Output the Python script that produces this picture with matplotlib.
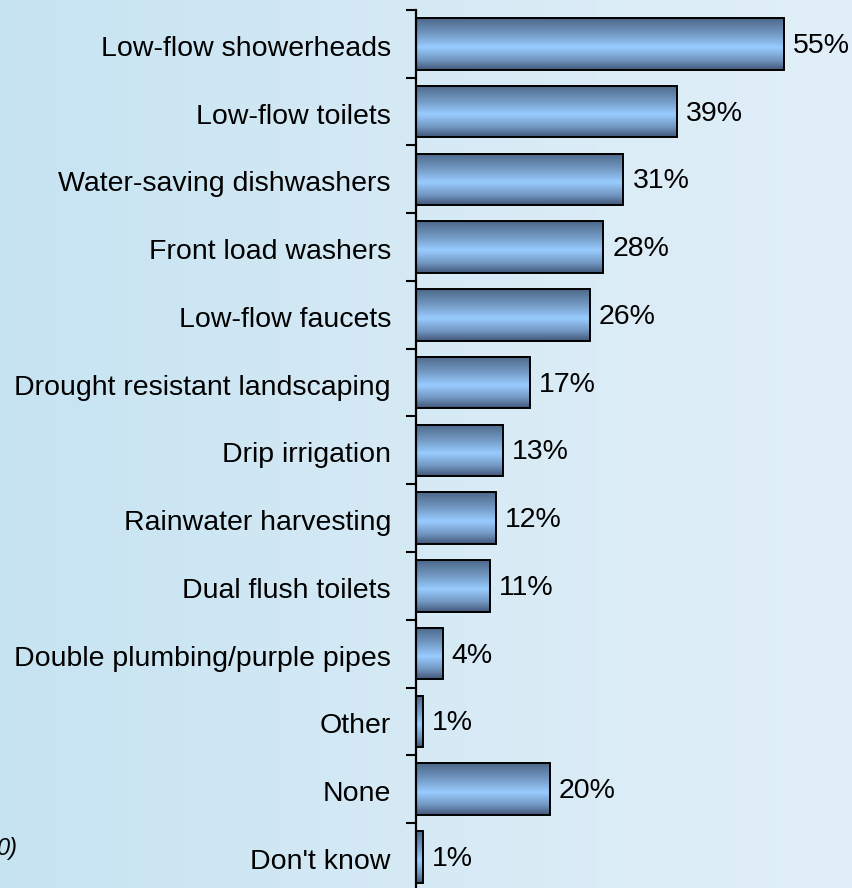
import numpy as np
import matplotlib.pyplot as plt
from matplotlib.colors import LinearSegmentedColormap

categories = [
    "Low-flow showerheads",
    "Low-flow toilets",
    "Water-saving dishwashers",
    "Front load washers",
    "Low-flow faucets",
    "Drought resistant landscaping",
    "Drip irrigation",
    "Rainwater harvesting",
    "Dual flush toilets",
    "Double plumbing/purple pipes",
    "Other",
    "None",
    "Don't know",
]
values = [55, 39, 31, 28, 26, 17, 13, 12, 11, 4, 1, 20, 1]
value_labels = [f"{v}%" for v in values]

plt.rcParams['font.family'] = ['Liberation Sans', 'DejaVu Sans']

W, H = 853, 888
fig = plt.figure(figsize=(W / 100, H / 100), dpi=100)

# background gradient, left to right
bg = fig.add_axes([0, 0, 1, 1], zorder=-10)
bg_cmap = LinearSegmentedColormap.from_list("bg", ["#c6e3f2", "#d6eaf5", "#e1eff8"])
bg.imshow(np.linspace(0, 1, 256)[None, :], aspect="auto", cmap=bg_cmap,
          extent=[0, 1, 0, 1])
bg.set_axis_off()

ax_left = 416 / W
ax_top = 1 - 10 / H
ax_bottom = 1 - 890.75 / H
ax = fig.add_axes([ax_left, ax_bottom, 1 - ax_left, ax_top - ax_bottom])
ax.patch.set_alpha(0)

y = np.arange(len(categories))
bars = ax.barh(y, values, height=0.76, facecolor="none", edgecolor="black",
               linewidth=1.4, zorder=3)

# vertical shading inside each bar: dark edges, light band a bit below middle
bar_cmap = LinearSegmentedColormap.from_list(
    "bar", [(0.0, "#4c6889"), (0.3, "#7399c4"), (0.56, "#99ccff"),
            (0.8, "#7399c4"), (1.0, "#43587a")])
grad = np.linspace(0, 1, 100)[:, None]
for b in bars:
    x0, y0, w, h = b.get_x(), b.get_y(), b.get_width(), b.get_height()
    ax.imshow(grad, aspect="auto", cmap=bar_cmap, extent=[x0, x0 + w, y0 + h, y0],
              zorder=2, interpolation="bilinear")

for b, lab in zip(bars, value_labels):
    ax.text(b.get_width() + 1.35, b.get_y() + b.get_height() / 2 + 0.03, lab,
            va="center", ha="left", fontsize=20.5)

ax.set_xlim(0, 65.3)
ax.set_ylim(len(categories) - 0.5, -0.5)
ax.set_yticks(y + 0.03)
ax.set_yticklabels(categories, fontsize=20.5)
ax.tick_params(axis="y", which="major", length=0, pad=18)
ax.set_yticks(np.arange(len(categories) + 1) - 0.5, minor=True)
ax.tick_params(axis="y", which="minor", length=7, width=1.5, direction="out")
ax.set_xticks([])
for s in ["top", "right", "bottom"]:
    ax.spines[s].set_visible(False)
ax.spines["left"].set_linewidth(1.6)

fig.text(-0.004, 1 - 848 / H, "0)", fontsize=17, style="italic", va="center", ha="left")

fig.savefig("out.png", dpi=100)
